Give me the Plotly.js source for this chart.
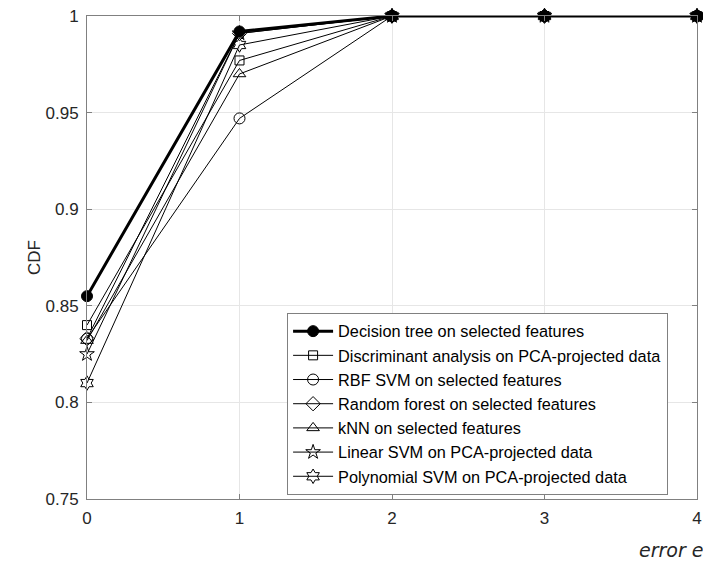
<!DOCTYPE html>
<html>
<head>
<meta charset="utf-8">
<script src="https://cdn.plot.ly/plotly-3.0.1.min.js"></script>
<style>html,body{margin:0;padding:0;background:#fff;}#chart{width:703px;height:562px;}</style>
</head>
<body>
<div id="chart"></div>
<script>
const errorLevels = [0, 1, 2, 3, 4];
const seriesNames = [
  "Decision tree on selected features",
  "Discriminant analysis on PCA-projected data",
  "RBF SVM on selected features",
  "Random forest on selected features",
  "kNN on selected features",
  "Linear SVM on PCA-projected data",
  "Polynomial SVM on PCA-projected data"
];
const decisionTree = [0.855, 0.992, 1, 1, 1];
const discriminant = [0.840, 0.977, 1, 1, 1];
const rbfSvm = [0.833, 0.947, 1, 1, 1];
const randomForest = [0.833, 0.991, 1, 1, 1];
const knn = [0.832, 0.970, 1, 1, 1];
const linearSvm = [0.825, 0.991, 1, 1, 1];
const polySvm = [0.810, 0.985, 1, 1, 1];
const yTicks = [0.75, 0.8, 0.85, 0.9, 0.95, 1];
const yTickText = ["0.75", "0.8", "0.85", "0.9", "0.95", "1"];

const values = [decisionTree, discriminant, rbfSvm, randomForest, knn, linearSvm, polySvm];
const symbols = ["circle", "square-open", "circle-open", "diamond-open", "triangle-up-open", "star-open", "hexagram-open"];
const sizes = [11, 9, 11, 11, 11, 11, 11];
const widths = [3, 1, 1, 1, 1, 1, 1];

const traces = values.map((v, i) => ({
  x: errorLevels,
  y: v,
  name: seriesNames[i],
  type: "scatter",
  mode: "lines+markers",
  cliponaxis: false,
  line: {color: "#000", width: widths[i]},
  marker: {symbol: symbols[i], size: sizes[i], color: "#000", line: {color: "#000", width: 1}}
}));

const layout = {
  width: 703, height: 562,
  margin: {l: 87, r: 6, t: 16, b: 63},
  paper_bgcolor: "#fff", plot_bgcolor: "#fff",
  font: {family: "Liberation Sans, Arial, sans-serif", size: 17, color: "#262626"},
  showlegend: true,
  xaxis: {
    range: [0, 4], tickvals: errorLevels, ticktext: errorLevels.map(String),
    showgrid: true, gridcolor: "#e6e6e6", zeroline: false,
    showline: true, linecolor: "#808080", linewidth: 1, mirror: "ticks",
    ticks: "inside", ticklen: 5, tickcolor: "#808080",
    tickfont: {size: 17, color: "#262626"}, ticklabelstandoff: 4
  },
  yaxis: {
    range: [0.75, 1], tickvals: yTicks, ticktext: yTickText,
    showgrid: true, gridcolor: "#e6e6e6", zeroline: false,
    showline: true, linecolor: "#808080", linewidth: 1, mirror: "ticks",
    ticks: "inside", ticklen: 5, tickcolor: "#808080",
    tickfont: {size: 17, color: "#262626"}, ticklabelstandoff: 4,
    title: {text: "CDF", font: {size: 17, color: "#262626"}, standoff: 0}
  },
  legend: {
    x: 0.328, y: 0.385, xanchor: "left", yanchor: "top",
    bgcolor: "#fff", bordercolor: "#808080", borderwidth: 1,
    font: {size: 16.3, color: "#000"}, tracegroupgap: 0, itemwidth: 40
  },
  annotations: [{
    text: "<i>error e</i>", xref: "paper", yref: "paper", x: 1, y: 0,
    xanchor: "right", yanchor: "top", xshift: 8, yshift: -38, showarrow: false,
    font: {family: "DejaVu Sans, Verdana, sans-serif", size: 19, color: "#262626"}
  }]
};

Plotly.newPlot("chart", traces, layout, {displayModeBar: false});
</script>
</body>
</html>
